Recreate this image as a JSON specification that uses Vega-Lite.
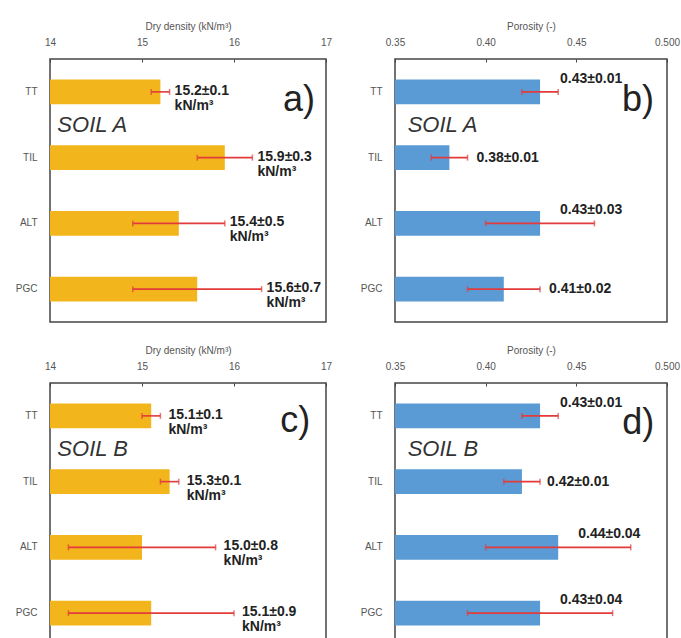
{
  "$schema": "https://vega.github.io/schema/vega-lite/v6.json",
  "padding": {"left": 14, "top": 20, "right": 0, "bottom": 0},
  "background": "white",
  "data": {"values": [
    {"soil": "A", "property": "density", "sample": "TT", "value": 15.2, "lo": 15.1, "hi": 15.3, "label": ["15.2±0.1", "kN/m³"]},
    {"soil": "A", "property": "density", "sample": "TIL", "value": 15.9, "lo": 15.6, "hi": 16.2, "label": ["15.9±0.3", "kN/m³"]},
    {"soil": "A", "property": "density", "sample": "ALT", "value": 15.4, "lo": 14.9, "hi": 15.9, "label": ["15.4±0.5", "kN/m³"]},
    {"soil": "A", "property": "density", "sample": "PGC", "value": 15.6, "lo": 14.9, "hi": 16.3, "label": ["15.6±0.7", "kN/m³"]},
    {"soil": "A", "property": "porosity", "sample": "TT", "value": 0.43, "lo": 0.42, "hi": 0.44, "label": "0.43±0.01"},
    {"soil": "A", "property": "porosity", "sample": "TIL", "value": 0.38, "lo": 0.37, "hi": 0.39, "label": "0.38±0.01"},
    {"soil": "A", "property": "porosity", "sample": "ALT", "value": 0.43, "lo": 0.40, "hi": 0.46, "label": "0.43±0.03"},
    {"soil": "A", "property": "porosity", "sample": "PGC", "value": 0.41, "lo": 0.39, "hi": 0.43, "label": "0.41±0.02"},
    {"soil": "B", "property": "density", "sample": "TT", "value": 15.1, "lo": 15.0, "hi": 15.2, "label": ["15.1±0.1", "kN/m³"]},
    {"soil": "B", "property": "density", "sample": "TIL", "value": 15.3, "lo": 15.2, "hi": 15.4, "label": ["15.3±0.1", "kN/m³"]},
    {"soil": "B", "property": "density", "sample": "ALT", "value": 15.0, "lo": 14.2, "hi": 15.8, "label": ["15.0±0.8", "kN/m³"]},
    {"soil": "B", "property": "density", "sample": "PGC", "value": 15.1, "lo": 14.2, "hi": 16.0, "label": ["15.1±0.9", "kN/m³"]},
    {"soil": "B", "property": "porosity", "sample": "TT", "value": 0.43, "lo": 0.42, "hi": 0.44, "label": "0.43±0.01"},
    {"soil": "B", "property": "porosity", "sample": "TIL", "value": 0.42, "lo": 0.41, "hi": 0.43, "label": "0.42±0.01"},
    {"soil": "B", "property": "porosity", "sample": "ALT", "value": 0.44, "lo": 0.40, "hi": 0.48, "label": "0.44±0.04"},
    {"soil": "B", "property": "porosity", "sample": "PGC", "value": 0.43, "lo": 0.39, "hi": 0.47, "label": "0.43±0.04"}
  ]},
  "config": {
    "font": "Liberation Sans",
    "view": {"stroke": "#444", "strokeWidth": 1.5},
    "axis": {"labelFont": "Liberation Sans", "labelFontSize": 10, "labelColor": "#555", "titleFont": "Liberation Sans", "titleFontSize": 10, "titleColor": "#555", "titleFontWeight": "normal", "grid": false, "domain": false},
    "axisY": {"ticks": false, "labelPadding": 13},
    "axisX": {"tickSize": -3, "tickColor": "#444", "labelPadding": 15, "titlePadding": 6, "labelFlush": false}
  },
  "spacing": 21,
  "vconcat": [
    {
      "spacing": 26,
      "hconcat": [
        {
          "width": 276, "height": 263,
          "transform": [{"filter": "datum.soil === 'A' && datum.property === 'density'"}],
          "encoding": {"y": {"field": "sample", "type": "nominal", "sort": ["TT", "TIL", "ALT", "PGC"], "scale": {"paddingInner": 0.62, "paddingOuter": 0.31}, "axis": {"title": null}}},
          "layer": [
            {"mark": {"type": "bar", "color": "#F2B51C"}, "encoding": {"x": {"field": "value", "type": "quantitative", "title": "Dry density (kN/m³)", "scale": {"domain": [14, 17], "nice": false, "zero": false}, "axis": {"orient": "top", "values": [14, 15, 16, 17], "format": "d"}}, "x2": {"datum": 14}}},
            {"mark": {"type": "rule", "color": "#E23B3B", "strokeWidth": 1.6}, "encoding": {"x": {"field": "lo", "type": "quantitative", "title": "Dry density (kN/m³)"}, "x2": {"field": "hi"}}},
            {"mark": {"type": "tick", "orient": "vertical", "color": "#E23B3B", "size": 6, "thickness": 1.5}, "encoding": {"x": {"field": "lo", "type": "quantitative", "title": "Dry density (kN/m³)"}}},
            {"mark": {"type": "tick", "orient": "vertical", "color": "#E23B3B", "size": 6, "thickness": 1.5}, "encoding": {"x": {"field": "hi", "type": "quantitative", "title": "Dry density (kN/m³)"}}},
            {"mark": {"type": "text", "align": "left", "baseline": "middle", "dx": 5, "dy": -1, "fontSize": 14, "fontWeight": "bold", "lineHeight": 15, "color": "#222"}, "encoding": {"x": {"field": "hi", "type": "quantitative", "title": "Dry density (kN/m³)"}, "text": {"field": "label"}}},
            {"transform": [{"filter": "datum.sample === 'TT'"}], "mark": {"type": "text", "align": "left", "baseline": "middle", "fontSize": 22, "fontStyle": "italic", "color": "#333", "dy": 33}, "encoding": {"x": {"datum": 14.08}, "y": {"datum": "TT"}, "text": {"value": "SOIL A"}}},
            {"transform": [{"filter": "datum.sample === 'TT'"}], "mark": {"type": "text", "align": "right", "baseline": "middle", "fontSize": 36, "color": "#222", "dy": 8}, "encoding": {"x": {"datum": 16.88}, "y": {"datum": "TT"}, "text": {"value": "a)"}}}
          ]
        },
        {
          "width": 272, "height": 263,
          "transform": [{"filter": "datum.soil === 'A' && datum.property === 'porosity'"}],
          "encoding": {"y": {"field": "sample", "type": "nominal", "sort": ["TT", "TIL", "ALT", "PGC"], "scale": {"paddingInner": 0.62, "paddingOuter": 0.31}, "axis": {"title": null}}},
          "layer": [
            {"mark": {"type": "bar", "color": "#5A9BD5"}, "encoding": {"x": {"field": "value", "type": "quantitative", "title": "Porosity (-)", "scale": {"domain": [0.35, 0.5], "nice": false, "zero": false}, "axis": {"orient": "top", "values": [0.35, 0.4, 0.45, 0.5], "labelExpr": "datum.value === 0.5 ? '0.500' : format(datum.value, '.2f')"}}, "x2": {"datum": 0.35}}},
            {"mark": {"type": "rule", "color": "#E23B3B", "strokeWidth": 1.6}, "encoding": {"x": {"field": "lo", "type": "quantitative", "title": "Porosity (-)"}, "x2": {"field": "hi"}}},
            {"mark": {"type": "tick", "orient": "vertical", "color": "#E23B3B", "size": 6, "thickness": 1.5}, "encoding": {"x": {"field": "lo", "type": "quantitative", "title": "Porosity (-)"}}},
            {"mark": {"type": "tick", "orient": "vertical", "color": "#E23B3B", "size": 6, "thickness": 1.5}, "encoding": {"x": {"field": "hi", "type": "quantitative", "title": "Porosity (-)"}}},
            {"transform": [{"filter": {"field": "sample", "oneOf": ["TIL", "PGC"]}}], "mark": {"type": "text", "align": "left", "baseline": "middle", "dx": 9, "fontSize": 14, "fontWeight": "bold", "color": "#222"}, "encoding": {"x": {"field": "hi", "type": "quantitative", "title": "Porosity (-)"}, "text": {"field": "label"}}},
            {"transform": [{"filter": {"field": "sample", "oneOf": ["TT", "ALT"]}}], "mark": {"type": "text", "align": "left", "baseline": "middle", "dx": 20, "dy": -13, "fontSize": 14, "fontWeight": "bold", "color": "#222"}, "encoding": {"x": {"field": "value", "type": "quantitative", "title": "Porosity (-)"}, "text": {"field": "label"}}},
            {"transform": [{"filter": "datum.sample === 'TT'"}], "mark": {"type": "text", "align": "left", "baseline": "middle", "fontSize": 22, "fontStyle": "italic", "color": "#333", "dy": 33}, "encoding": {"x": {"datum": 0.357}, "y": {"datum": "TT"}, "text": {"value": "SOIL A"}}},
            {"transform": [{"filter": "datum.sample === 'TT'"}], "mark": {"type": "text", "align": "right", "baseline": "middle", "fontSize": 36, "color": "#222", "dy": 8}, "encoding": {"x": {"datum": 0.4928}, "y": {"datum": "TT"}, "text": {"value": "b)"}}}
          ]
        }
      ]
    },
    {
      "spacing": 26,
      "hconcat": [
        {
          "width": 276, "height": 263,
          "transform": [{"filter": "datum.soil === 'B' && datum.property === 'density'"}],
          "encoding": {"y": {"field": "sample", "type": "nominal", "sort": ["TT", "TIL", "ALT", "PGC"], "scale": {"paddingInner": 0.62, "paddingOuter": 0.31}, "axis": {"title": null}}},
          "layer": [
            {"mark": {"type": "bar", "color": "#F2B51C"}, "encoding": {"x": {"field": "value", "type": "quantitative", "title": "Dry density (kN/m³)", "scale": {"domain": [14, 17], "nice": false, "zero": false}, "axis": {"orient": "top", "values": [14, 15, 16, 17], "format": "d"}}, "x2": {"datum": 14}}},
            {"mark": {"type": "rule", "color": "#E23B3B", "strokeWidth": 1.6}, "encoding": {"x": {"field": "lo", "type": "quantitative", "title": "Dry density (kN/m³)"}, "x2": {"field": "hi"}}},
            {"mark": {"type": "tick", "orient": "vertical", "color": "#E23B3B", "size": 6, "thickness": 1.5}, "encoding": {"x": {"field": "lo", "type": "quantitative", "title": "Dry density (kN/m³)"}}},
            {"mark": {"type": "tick", "orient": "vertical", "color": "#E23B3B", "size": 6, "thickness": 1.5}, "encoding": {"x": {"field": "hi", "type": "quantitative", "title": "Dry density (kN/m³)"}}},
            {"mark": {"type": "text", "align": "left", "baseline": "middle", "dx": 8, "dy": -1, "fontSize": 14, "fontWeight": "bold", "lineHeight": 15, "color": "#222"}, "encoding": {"x": {"field": "hi", "type": "quantitative", "title": "Dry density (kN/m³)"}, "text": {"field": "label"}}},
            {"transform": [{"filter": "datum.sample === 'TT'"}], "mark": {"type": "text", "align": "left", "baseline": "middle", "fontSize": 22, "fontStyle": "italic", "color": "#333", "dy": 33}, "encoding": {"x": {"datum": 14.08}, "y": {"datum": "TT"}, "text": {"value": "SOIL B"}}},
            {"transform": [{"filter": "datum.sample === 'TT'"}], "mark": {"type": "text", "align": "right", "baseline": "middle", "fontSize": 36, "color": "#222", "dy": 5}, "encoding": {"x": {"datum": 16.83}, "y": {"datum": "TT"}, "text": {"value": "c)"}}}
          ]
        },
        {
          "width": 272, "height": 263,
          "transform": [{"filter": "datum.soil === 'B' && datum.property === 'porosity'"}],
          "encoding": {"y": {"field": "sample", "type": "nominal", "sort": ["TT", "TIL", "ALT", "PGC"], "scale": {"paddingInner": 0.62, "paddingOuter": 0.31}, "axis": {"title": null}}},
          "layer": [
            {"mark": {"type": "bar", "color": "#5A9BD5"}, "encoding": {"x": {"field": "value", "type": "quantitative", "title": "Porosity (-)", "scale": {"domain": [0.35, 0.5], "nice": false, "zero": false}, "axis": {"orient": "top", "values": [0.35, 0.4, 0.45, 0.5], "labelExpr": "datum.value === 0.5 ? '0.500' : format(datum.value, '.2f')"}}, "x2": {"datum": 0.35}}},
            {"mark": {"type": "rule", "color": "#E23B3B", "strokeWidth": 1.6}, "encoding": {"x": {"field": "lo", "type": "quantitative", "title": "Porosity (-)"}, "x2": {"field": "hi"}}},
            {"mark": {"type": "tick", "orient": "vertical", "color": "#E23B3B", "size": 6, "thickness": 1.5}, "encoding": {"x": {"field": "lo", "type": "quantitative", "title": "Porosity (-)"}}},
            {"mark": {"type": "tick", "orient": "vertical", "color": "#E23B3B", "size": 6, "thickness": 1.5}, "encoding": {"x": {"field": "hi", "type": "quantitative", "title": "Porosity (-)"}}},
            {"transform": [{"filter": {"field": "sample", "oneOf": ["TIL"]}}], "mark": {"type": "text", "align": "left", "baseline": "middle", "dx": 7, "fontSize": 14, "fontWeight": "bold", "color": "#222"}, "encoding": {"x": {"field": "hi", "type": "quantitative", "title": "Porosity (-)"}, "text": {"field": "label"}}},
            {"transform": [{"filter": {"field": "sample", "oneOf": ["TT", "ALT", "PGC"]}}], "mark": {"type": "text", "align": "left", "baseline": "middle", "dx": 20, "dy": -13, "fontSize": 14, "fontWeight": "bold", "color": "#222"}, "encoding": {"x": {"field": "value", "type": "quantitative", "title": "Porosity (-)"}, "text": {"field": "label"}}},
            {"transform": [{"filter": "datum.sample === 'TT'"}], "mark": {"type": "text", "align": "left", "baseline": "middle", "fontSize": 22, "fontStyle": "italic", "color": "#333", "dy": 33}, "encoding": {"x": {"datum": 0.357}, "y": {"datum": "TT"}, "text": {"value": "SOIL B"}}},
            {"transform": [{"filter": "datum.sample === 'TT'"}], "mark": {"type": "text", "align": "right", "baseline": "middle", "fontSize": 36, "color": "#222", "dy": 7}, "encoding": {"x": {"datum": 0.493}, "y": {"datum": "TT"}, "text": {"value": "d)"}}}
          ]
        }
      ]
    }
  ]
}
